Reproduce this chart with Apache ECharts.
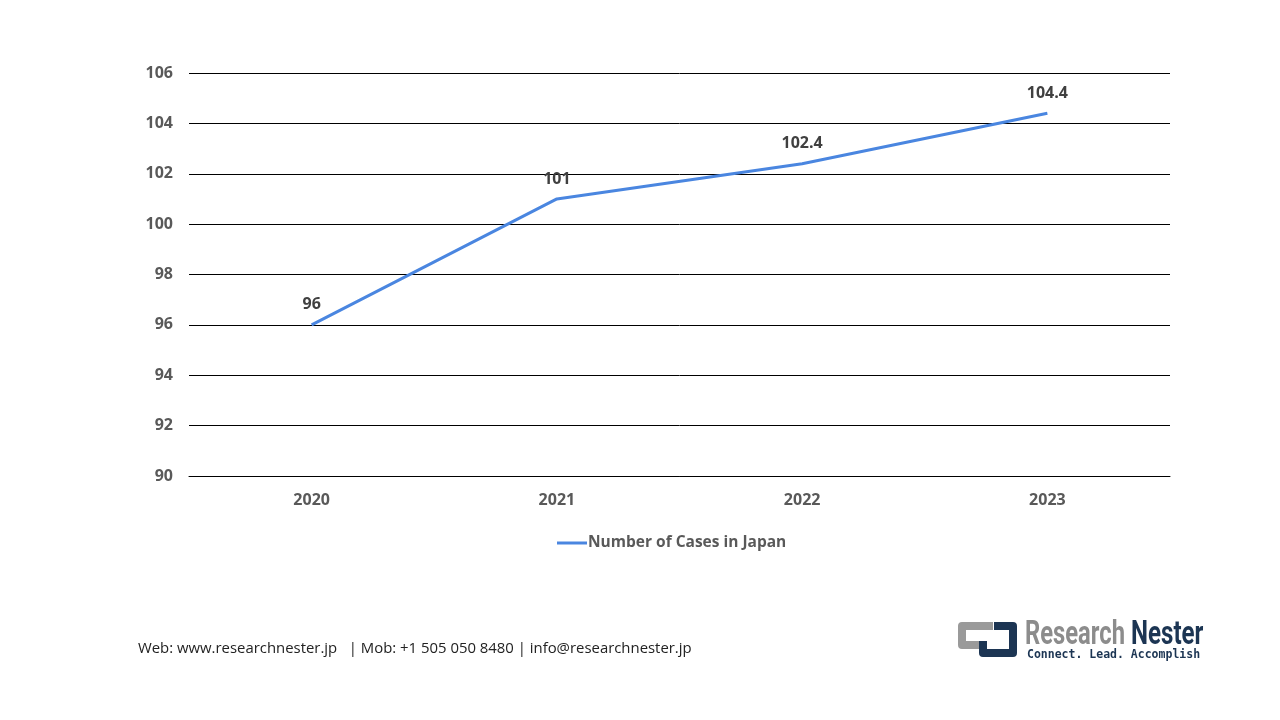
<!DOCTYPE html>
<html lang="en">
<head>
    <meta charset="UTF-8">
    <title>Number of Cases in Japan</title>
    <script src="https://cdn.jsdelivr.net/npm/echarts@6/dist/echarts.min.js"></script>
    <style>
        html, body { margin: 0; padding: 0; background: #fff; }
    </style>
</head>
<body>
    <div id="graph" style="width: 1280px; height: 720px;"></div>

    <script>
        // chart data
        var years = ['2020', '2021', '2022', '2023'];
        var cases = [96, 101, 102.4, 104.4];
        var seriesName = 'Number of Cases in Japan';
        var footerText = 'Web: www.researchnester.jp   | Mob: +1 505 050 8480 | info@researchnester.jp';

        var font = 'Open Sans, Noto Sans, sans-serif';
        var logoFont = 'bold 33px Liberation Sans Narrow, Roboto, sans-serif';

        var myChart = echarts.init(document.getElementById('graph'));
        var option = {
            animation: false,
            grid: { left: 189, right: 110, top: 73, bottom: 244 },
            legend: {
                data: [seriesName],
                top: 530,
                left: 552,
                itemWidth: 30,
                itemHeight: 3,
                itemGap: 0,
                icon: 'rect',
                textStyle: { color: '#595959', fontSize: 15.5, fontWeight: 'bold', fontFamily: font, padding: [0, 0, 0, -4] }
            },
            xAxis: {
                type: 'category',
                data: years,
                axisLine: { lineStyle: { color: '#000', width: 1 } },
                axisTick: { show: false },
                axisLabel: { color: '#595959', fontSize: 16, fontWeight: 'bold', fontFamily: font, margin: 16 }
            },
            yAxis: {
                type: 'value',
                min: 90,
                max: 106,
                interval: 2,
                axisLine: { show: false },
                axisTick: { show: false },
                splitLine: { lineStyle: { color: '#000', width: 1 } },
                axisLabel: { color: '#595959', fontSize: 16, fontWeight: 'bold', fontFamily: font, margin: 16 }
            },
            series: [{
                name: seriesName,
                type: 'line',
                data: cases,
                symbol: 'circle',
                symbolSize: 0,
                lineStyle: { color: '#4a86e0', width: 3 },
                itemStyle: { color: '#4a86e0' },
                label: {
                    show: true,
                    position: 'top',
                    distance: 12,
                    color: '#404040',
                    fontSize: 16,
                    fontWeight: 'bold',
                    fontFamily: font
                }
            }],
            graphic: [
                {
                    type: 'text', left: 138, top: 641,
                    style: { text: footerText, fill: '#222', font: '14.9px ' + font }
                },
                // logo icon
                {
                    type: 'polyline',
                    shape: { points: [[993, 626], [962, 626], [962, 645], [979, 645]] },
                    style: { stroke: '#9a9a9a', lineWidth: 8, fill: null, lineJoin: 'round' }
                },
                {
                    type: 'polyline',
                    shape: { points: [[983, 641], [983, 653], [1013, 653], [1013, 626], [994, 626]] },
                    style: { stroke: '#1c3553', lineWidth: 8, fill: null, lineJoin: 'round' }
                },
                {
                    type: 'text', x: 1025, y: 619, scaleX: 0.72,
                    style: { text: 'Research', fill: '#8c8c8c', font: logoFont }
                },
                {
                    type: 'text', x: 1131, y: 619, scaleX: 0.73,
                    style: { text: 'Nester', fill: '#1c3553', font: logoFont }
                },
                {
                    type: 'text', x: 1027, y: 649,
                    style: { text: 'Connect. Lead. Accomplish', fill: '#1c3553', font: 'bold 11.5px DejaVu Sans Mono, monospace' }
                }
            ]
        };
        myChart.setOption(option);
    </script>
</body>
</html>
